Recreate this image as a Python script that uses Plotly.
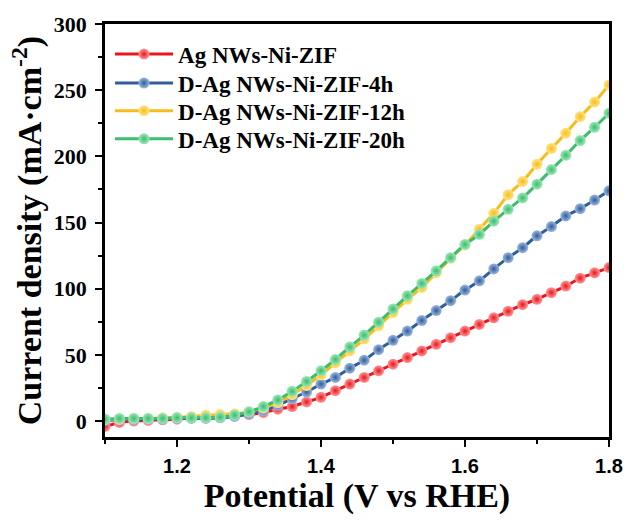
import plotly.graph_objects as go

potential = [1.10, 1.12, 1.14, 1.16, 1.18, 1.20, 1.22, 1.24, 1.26, 1.28,
             1.30, 1.32, 1.34, 1.36, 1.38, 1.40, 1.42, 1.44, 1.46, 1.48,
             1.50, 1.52, 1.54, 1.56, 1.58, 1.60, 1.62, 1.64, 1.66, 1.68,
             1.70, 1.72, 1.74, 1.76, 1.78, 1.80]

ag_ni_zif = [-4, -1, 0, 0.5, 1, 1.5, 2.5, 3.5, 4, 4.5,
             5, 6.5, 9, 11, 14.5, 18, 23, 28, 33, 38,
             43, 48, 53, 58, 63, 68, 73, 78, 83, 88,
             92, 97, 102, 108, 112, 116]

d_4h = [0.5, 1, 1, 1.5, 1.5, 2, 2, 2, 2.5, 3.5,
        5.5, 8, 12, 17, 22, 28, 33, 40, 46, 54,
        61, 68, 76, 83.5, 91, 99, 106, 115, 123.5, 131,
        140, 147, 155, 160.5, 167, 174]

d_12h = [1.5, 1.5, 2, 2, 2.5, 3, 3.5, 4.5, 5, 5.5,
         7, 10, 14, 20, 27, 35, 44, 53, 62, 72,
         82, 92, 101, 112, 123, 133, 145, 157, 171, 181,
         194, 206, 217.5, 230, 241, 254]

d_20h = [1.5, 2, 2, 2, 2, 2.5, 2.5, 2.5, 3, 4.5,
         7, 11, 16, 22.5, 30, 38, 46.6, 56, 65, 74.7,
         84.7, 94.7, 104, 113.5, 123.5, 133.5, 141, 151, 160, 168.6,
         179, 190, 200.8, 212, 222, 232.6]

names = ["Ag NWs-Ni-ZIF", "D-Ag NWs-Ni-ZIF-4h", "D-Ag NWs-Ni-ZIF-12h", "D-Ag NWs-Ni-ZIF-20h"]
series = [ag_ni_zif, d_4h, d_12h, d_20h]
colors = ["#E8161E", "#2F5E99", "#F8BC1A", "#3BBD6B"]
highlights = ["#FF9A9A", "#9DB8E0", "#FFE48A", "#9EE8BA"]
legend_ids = ["legend", "legend2", "legend3", "legend4"]
legend_rows = [0.927, 0.857, 0.790, 0.722]

serif = "Liberation Serif, Times New Roman, serif"
sans = "Liberation Sans, Arial, sans-serif"

fig = go.Figure()
for name, ys, col, hl, lg in zip(names, series, colors, highlights, legend_ids):
    fig.add_trace(go.Scatter(
        x=potential, y=ys, name=name, mode="lines+markers", legend=lg,
        line=dict(color=col, width=3, shape="spline", smoothing=0.6),
        marker=dict(size=11, color=hl, symbol="circle",
                    gradient=dict(type="radial", color=col),
                    line=dict(width=0)),
    ))

legend_layout = {}
for lg, ypos in zip(legend_ids, legend_rows):
    legend_layout[lg] = dict(
        x=0.01, y=ypos, xanchor="left", yanchor="middle",
        bgcolor="rgba(0,0,0,0)", borderwidth=0,
        font=dict(family=serif, size=23, color="black", weight="bold"),
        itemwidth=58)

fig.update_layout(
    width=635, height=524,
    margin=dict(l=105, r=20, t=23, b=87),
    paper_bgcolor="white", plot_bgcolor="white",
    showlegend=True,
    **legend_layout,
    xaxis=dict(
        range=[1.1, 1.8], dtick=0.2, tick0=1.2,
        showgrid=False, zeroline=False,
        showline=True, linecolor="black", linewidth=2.5, mirror=True,
        ticks="outside", ticklen=7, tickwidth=2, tickcolor="black",
        minor=dict(dtick=0.1, tick0=1.1, ticks="outside", ticklen=4, tickwidth=2, tickcolor="black"),
        tickfont=dict(family=sans, size=20, color="black", weight="bold"),
        tickformat=".1f", ticklabelstandoff=2,
        title=dict(text="Potential (V vs RHE)", standoff=8,
                   font=dict(family=serif, size=34, color="black", weight="bold")),
    ),
    yaxis=dict(
        range=[-12, 300], dtick=50, tick0=0,
        showgrid=False, zeroline=False,
        showline=True, linecolor="black", linewidth=2.5, mirror=True,
        ticks="outside", ticklen=7, tickwidth=2, tickcolor="black",
        minor=dict(dtick=25, tick0=0, ticks="outside", ticklen=4, tickwidth=2, tickcolor="black"),
        tickfont=dict(family=serif, size=22, color="black", weight="bold"),
        ticklabelstandoff=4,
        title=dict(text="Current density (mA·cm<sup>-2</sup>)", standoff=2,
                   font=dict(family=serif, size=34, color="black", weight="bold")),
    ),
)

fig.write_html("out.html")
